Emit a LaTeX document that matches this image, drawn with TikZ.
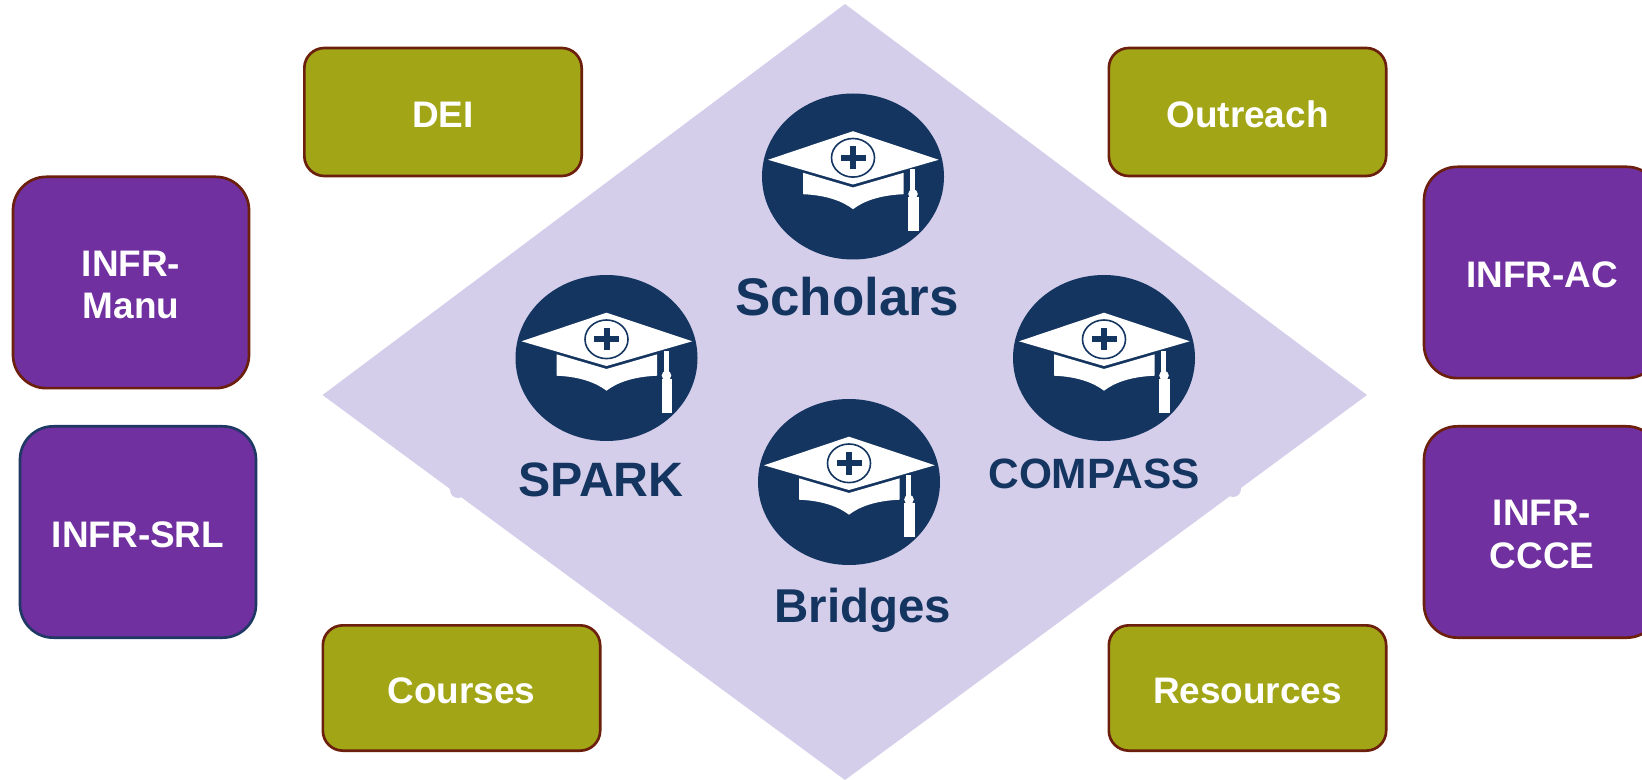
\documentclass[tikz,border=0pt]{standalone}
\usepackage{fontspec}
\setmainfont{Liberation Sans}
\definecolor{lav}{HTML}{D4CEEB}
\definecolor{navyc}{HTML}{153561}
\definecolor{purp}{HTML}{7030A0}
\definecolor{olive2}{HTML}{A2A516}
\definecolor{maroon2}{HTML}{6B1F0C}
\definecolor{edgeblue}{HTML}{1F3864}
\tikzset{
  olivebox/.style={draw=maroon2,line width=2pt,fill=olive2,rounded corners=15pt,minimum width=208pt,minimum height=96pt,
    inner sep=0pt,text=white,execute at begin node={\rule{0pt}{23.5pt}},font=\bfseries\fontsize{27.7}{33}\selectfont,align=center},
  purplebox/.style={draw=maroon2,line width=2pt,fill=purp,rounded corners=25pt,minimum width=177pt,minimum height=158.5pt,
    inner sep=0pt,text=white,execute at begin node={\rule{0pt}{23.5pt}},font=\bfseries\fontsize{27.7}{32}\selectfont,align=center},
  navylabel/.style={text=navyc,inner sep=0pt,font=\bfseries\fontsize{#1}{#1}\selectfont},
  mortarboard/.pic={
    \fill[navyc] (0,0) ellipse [x radius=91,y radius=83];
    \fill[white] (-85,-16.7) -- (0,-45.3) -- (85.7,-16.7) -- (0,8) -- cycle;
    \fill[white] (-50,-3.7) -- (0,11) -- (50.7,-3.7) -- (50.7,17.7)
       .. controls (26,18.7) and (10,25) .. (0,32.7)
       .. controls (-10,25) and (-26,18.7) .. (-50,17.7) -- cycle;
    \fill[white] (57.3,-7.3) rectangle (62.3,13.7);
    \fill[white] (60,17.5) circle [radius=4.8];
    \fill[white] (55,21) rectangle (65.5,54.7);
    \draw[navyc,line width=1.2pt,fill=white] (0,-18.7) ellipse [x radius=21.5,y radius=19.3];
    \fill[navyc] (-12.5,-21.7) rectangle (12.5,-15.7);
    \fill[navyc] (-3,-30) rectangle (3,-7.5);
  }
}
\begin{document}
\begin{tikzpicture}[x=0.75pt,y=-0.75pt]
\useasboundingbox (0,0) rectangle (1642,780);
% diamond
\fill[lav] (845,4) -- (1367,395) -- (845,780) -- (322.5,395) -- cycle;
\fill[lav] (458,490) circle [radius=8];
\fill[lav] (1233,489) circle [radius=8];
% green boxes
\node[olivebox] (dei) at (443,112) {DEI};
\node[olivebox] (outreach) at (1247.5,112) {Outreach};
\node[olivebox,minimum height=94pt] (courses) at (461.5,688) {Courses};
\node[olivebox,minimum height=94pt] (resources) at (1247.5,688) {Resources};
% purple boxes
\node[purplebox] (manu) at (131,282.5) {\rule{0pt}{23pt}INFR-\\Manu};
\node[purplebox,draw=edgeblue] (srl) at (138,532) {INFR-SRL};
\node[purplebox] (ac) at (1542,272.5) {INFR-AC};
\node[purplebox] (ccce) at (1542,532) {\rule{0pt}{23pt}INFR-\\CCCE};
% caps
\pic at (853,176.5) {mortarboard};
\pic at (606.5,358) {mortarboard};
\pic at (1104,358) {mortarboard};
\pic at (849,482) {mortarboard};
% labels
\node[navylabel=39.7] (scholars) at (847,297) {Scholars};
\node[navylabel=36.2] (spark) at (601,480) {SPARK};
\node[navylabel=31.8] (compass) at (1094,474) {COMPASS};
\node[navylabel=35.6] (bridges) at (863,610) {Bridges};
\end{tikzpicture}
\end{document}
